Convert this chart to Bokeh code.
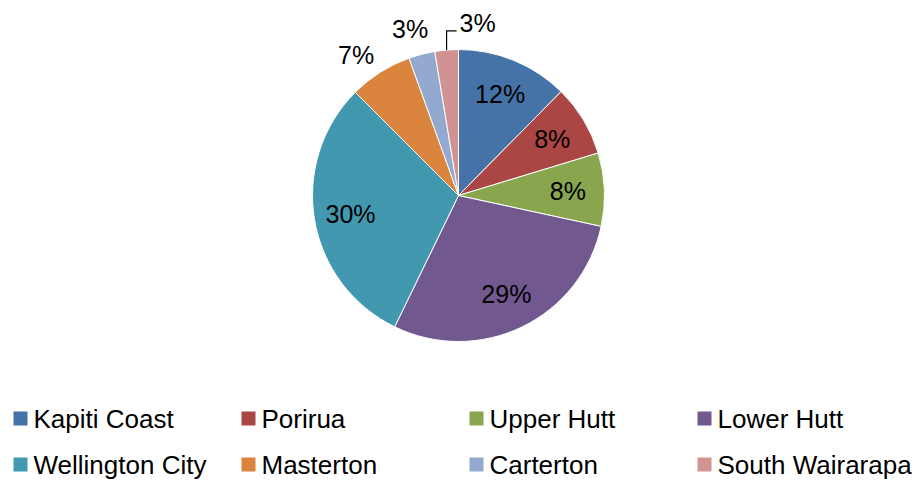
import math
from bokeh.plotting import figure
from bokeh.models import Range1d, ColumnDataSource
from bokeh.core.properties import value
from bokeh.embed import file_html
from bokeh.resources import INLINE

# ---- data ----
categories = ["Kapiti Coast", "Porirua", "Upper Hutt", "Lower Hutt",
              "Wellington City", "Masterton", "Carterton", "South Wairarapa"]
shares = [12.4, 7.9, 8.1, 28.8, 30.3, 7.0, 2.9, 2.6]
colors = ["#4572A7", "#AA4643", "#89A54E", "#71588F",
          "#4198AF", "#DB843D", "#93A9CF", "#D19392"]

# ---- layout (picture pixel based) ----
W, H = 915, 480
FONT = value("Liberation Sans")
CX, CY = 458, 480 - 195   # pie centre (data y = 480 - picture y)
R = 146
label_nudge_deg = [0, 0, 0, 0, 0, 3.7, 1.6, -11]   # label placement tweaks (layout only)

p = figure(width=W, height=H, x_range=Range1d(0, W), y_range=Range1d(0, H),
           output_backend="svg", toolbar_location=None, min_border=0)
p.axis.visible = False
p.grid.visible = False
p.outline_line_color = None
p.background_fill_color = "white"

total = sum(shares)
starts, ends, mids = [], [], []
cum = 0.0
for v in shares:
    a0 = math.pi / 2 - 2 * math.pi * cum / total
    cum += v
    a1 = math.pi / 2 - 2 * math.pi * cum / total
    starts.append(a0)
    ends.append(a1)
    mids.append((a0 + a1) / 2)

src = ColumnDataSource(dict(start=starts, end=ends, color=colors, name=categories))
p.wedge(x=CX, y=CY, radius=R, start_angle="start", end_angle="end", direction="clock",
        fill_color="color", line_color="white", line_width=1, source=src)

# ---- data labels ----
lx, ly, lt = [], [], []
lead_x, lead_y = [], []
for i, v in enumerate(shares):
    txt = f"{v:.0f}%"
    m = mids[i]
    r = 0.75 * R if v >= 7.5 else 1.19 * R
    ang = m + math.radians(label_nudge_deg[i])
    x = CX + r * math.cos(ang)
    y = CY + r * math.sin(ang)
    lx.append(x)
    ly.append(y)
    lt.append(txt)
    if i == len(shares) - 1:
        ex = CX + R * math.cos(m)
        ey = CY + R * math.sin(m)
        lead_x = [ex, ex, x - 21]
        lead_y = [ey, y - 8, y - 8]

p.line(lead_x, lead_y, line_color="black", line_width=1.2)
p.text(x=lx, y=ly, text=lt, text_align="center", text_baseline="middle",
       text_font=FONT, text_font_size="25px", text_color="black")

# ---- legend ----
sq_x, sq_y, tx, ty = [], [], [], []
for i, name in enumerate(categories):
    col = i % 4
    row = i // 4
    left = 13 + col * 228
    yy = 480 - (418 + row * 46)
    sq_x.append(left + 7)
    sq_y.append(yy)
    tx.append(left + 20)
    ty.append(yy)
p.rect(x=sq_x, y=sq_y, width=14, height=14, fill_color=colors, line_color=None)
p.text(x=tx, y=ty, text=categories, text_align="left", text_baseline="middle",
       text_font=FONT, text_font_size="26px", text_color="black")

open("out.html", "w").write(file_html(p, INLINE))
